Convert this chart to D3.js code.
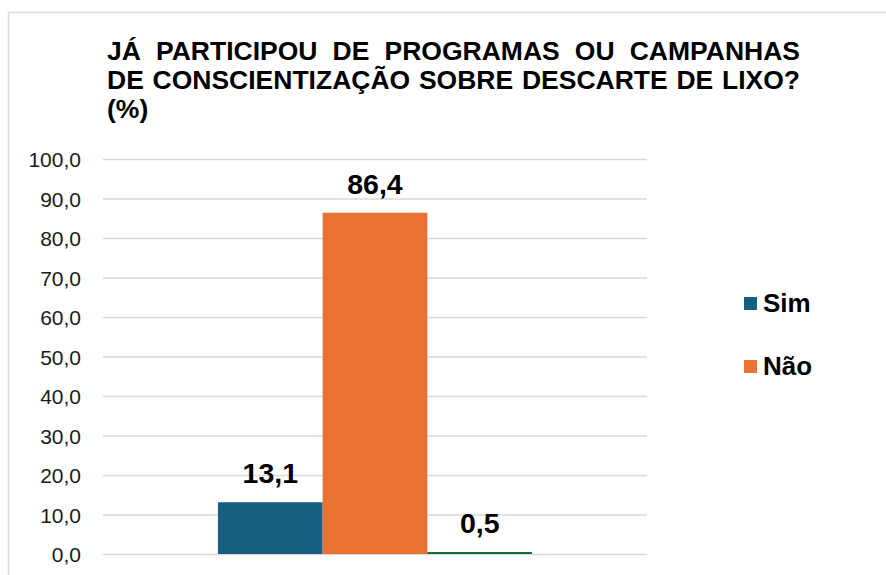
<!DOCTYPE html>
<html>
<head>
<meta charset="utf-8">
<script src="https://cdn.jsdelivr.net/npm/d3@7"></script>
<style>
  html, body { margin: 0; padding: 0; background: #ffffff; }
  svg { display: block; font-family: "Liberation Sans", Arial, Helvetica, sans-serif; }
</style>
</head>
<body>
<svg id="chart" width="886" height="575"></svg>
<script>
// ---- data ----
const titleLines = [
  "JÁ PARTICIPOU DE PROGRAMAS OU CAMPANHAS",
  "DE CONSCIENTIZAÇÃO SOBRE DESCARTE DE LIXO?",
  "(%)"
];
const categories = [""];
const seriesNames = ["Sim", "Não", ""];
const seriesValues = [13.1, 86.4, 0.5];
const seriesColors = ["#156082", "#E97132", "#196B24"];
const legendNames = ["Sim", "Não"];
const yTicks = [0, 10, 20, 30, 40, 50, 60, 70, 80, 90, 100];

// ---- layout ----
const plot = { left: 103, right: 647, top: 159, bottom: 554 };
const fmt = v => d3.format(".1f")(v).replace(".", ",");

const svg = d3.select("#chart");

// outer chart border (extends beyond the visible window)
svg.append("rect")
  .attr("x", 8.5).attr("y", 12.5)
  .attr("width", 1000).attr("height", 1000)
  .attr("fill", "#ffffff")
  .attr("stroke", "#d9d9d9").attr("stroke-width", 1.5);

// ---- scales ----
const y = d3.scaleLinear().domain([0, 100]).range([plot.bottom, plot.top]);
const x0 = d3.scaleBand().domain(categories).range([plot.left, plot.right])
  .paddingInner(0).paddingOuter(0.366);
const x1 = d3.scaleBand().domain(d3.range(seriesValues.length))
  .range([0, x0.bandwidth()]).padding(0);

// ---- axis + gridlines ----
const yAxis = d3.axisLeft(y).tickValues(yTicks).tickFormat(fmt)
  .tickSize(-(plot.right - plot.left)).tickPadding(22);
const gAxis = svg.append("g")
  .attr("transform", `translate(${plot.left},0)`)
  .call(yAxis);
gAxis.select(".domain").remove();
gAxis.selectAll(".tick line").attr("stroke", "#d9d9d9").attr("stroke-width", 1.5);
gAxis.selectAll(".tick text")
  .attr("dy", 7.5)
  .attr("fill", "#1a1a1a")
  .style("font-size", "21px")
  .style("font-family", "'Liberation Sans', Arial, sans-serif");

// ---- bars ----
const gBars = svg.append("g").attr("transform", `translate(${x0("")},0)`);
gBars.selectAll("rect").data(seriesValues).join("rect")
  .attr("x", (d, i) => x1(i))
  .attr("width", x1.bandwidth())
  .attr("y", d => y(d))
  .attr("height", d => y(0) - y(d))
  .attr("fill", (d, i) => seriesColors[i]);

// ---- data labels ----
gBars.selectAll("text").data(seriesValues).join("text")
  .attr("x", (d, i) => x1(i) + x1.bandwidth() / 2)
  .attr("y", d => y(d) - 19)
  .attr("text-anchor", "middle")
  .attr("fill", "#000000")
  .style("font-size", "28.5px")
  .style("font-weight", "bold")
  .text(d => fmt(d));

// ---- legend ----
const gLeg = svg.append("g");
legendNames.forEach((name, i) => {
  const by = 312 + i * 63;
  gLeg.append("rect")
    .attr("x", 744).attr("y", by - 15)
    .attr("width", 13).attr("height", 13)
    .attr("fill", seriesColors[i]);
  gLeg.append("text")
    .attr("x", 763).attr("y", by)
    .attr("fill", "#000000")
    .style("font-size", "26px")
    .style("font-weight", "bold")
    .text(name);
});

// ---- title (justified) ----
const titleLeft = 107, titleRight = 800;
const titleBase = [60, 89, 118];
titleLines.forEach((line, li) => {
  const g = svg.append("g")
    .attr("transform", `translate(${titleLeft},${titleBase[li]})`);
  const words = line.split(" ");
  const texts = words.map(w => g.append("text")
    .attr("fill", "#000000")
    .style("font-size", "26.5px")
    .style("font-weight", "bold")
    .text(w));
  const widths = texts.map(t => t.node().getComputedTextLength());
  const total = d3.sum(widths);
  const target = titleRight - titleLeft;
  const justify = li < titleLines.length - 1 && words.length > 1;
  const gap = justify ? (target - total) / (words.length - 1) : 7;
  let cx = 0;
  texts.forEach((t, i) => { t.attr("x", cx); cx += widths[i] + gap; });
});
</script>
</body>
</html>
